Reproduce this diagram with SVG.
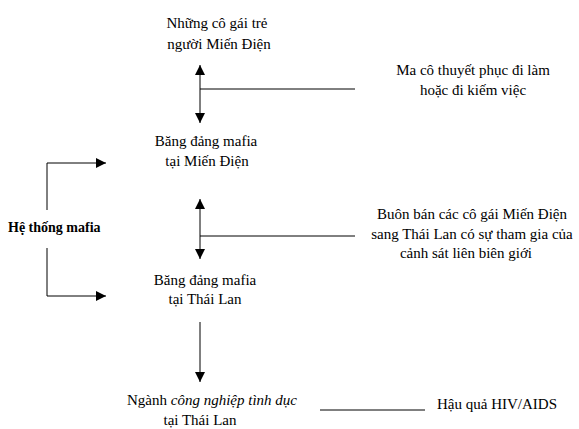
<svg xmlns="http://www.w3.org/2000/svg" width="579" height="429" viewBox="0 0 579 429">
<defs>
<marker id="ah" viewBox="0 0 10 10" refX="10" refY="5" markerWidth="10" markerHeight="10" markerUnits="userSpaceOnUse" orient="auto">
<path d="M0,0 L10,5 L0,10 z" fill="#000"/>
</marker>
<style>
text{font-family:"Liberation Serif","Times New Roman",serif;font-size:15px;fill:#000}
.c{text-anchor:middle}
.b{font-weight:bold;font-size:14px}
.ln{stroke:#000;stroke-width:1;fill:none}
.ar{marker-end:url(#ah)}
</style>
</defs>
<rect width="579" height="429" fill="#fff"/>
<g id="connectors">
<line class="ln ar" x1="200" y1="89" x2="200" y2="65"/>
<line class="ln ar" x1="200" y1="89" x2="200" y2="123"/>
<line class="ln" x1="200" y1="89" x2="355" y2="89"/>
<line class="ln ar" x1="200" y1="236" x2="200" y2="199"/>
<line class="ln ar" x1="200" y1="236" x2="200" y2="259"/>
<line class="ln" x1="200" y1="236" x2="355" y2="236"/>
<polyline class="ln ar" points="47,210 47,163 106,163"/>
<polyline class="ln ar" points="47,248 47,296 106,296"/>
<line class="ln ar" x1="200" y1="322" x2="200" y2="382"/>
<line class="ln" x1="320" y1="410" x2="425" y2="410"/>
</g>
<g id="n-girls"><text class="c" x="217" y="28">Những cô gái trẻ</text><text class="c" x="219" y="49">người Miến Điện</text></g>
<g id="n-ma"><text class="c" x="473" y="75">Ma cô thuyết phục đi làm</text><text class="c" x="473" y="95">hoặc đi kiếm việc</text></g>
<g id="n-mafia-md"><text class="c" x="206" y="146">Băng đảng mafia</text><text class="c" x="207" y="166">tại Miến Điện</text></g>
<g id="n-system"><text class="b" x="8" y="232">Hệ thống mafia</text></g>
<g id="n-trade"><text class="c" x="472" y="219">Buôn bán các cô gái Miến  Điện</text><text class="c" x="472" y="239">sang Thái Lan có sự tham gia của</text><text class="c" x="466" y="258">cảnh sát liên biên giới</text></g>
<g id="n-mafia-tl"><text class="c" x="205" y="285">Băng đảng mafia</text><text class="c" x="205" y="304">tại Thái Lan</text></g>
<g id="n-industry"><text class="c" x="212" y="405">Ngành <tspan font-style="italic">công nghiệp tình dục</tspan></text><text class="c" x="200" y="425">tại Thái Lan</text></g>
<g id="n-hiv"><text x="437" y="409">Hậu quả HIV/AIDS</text></g>
</svg>
